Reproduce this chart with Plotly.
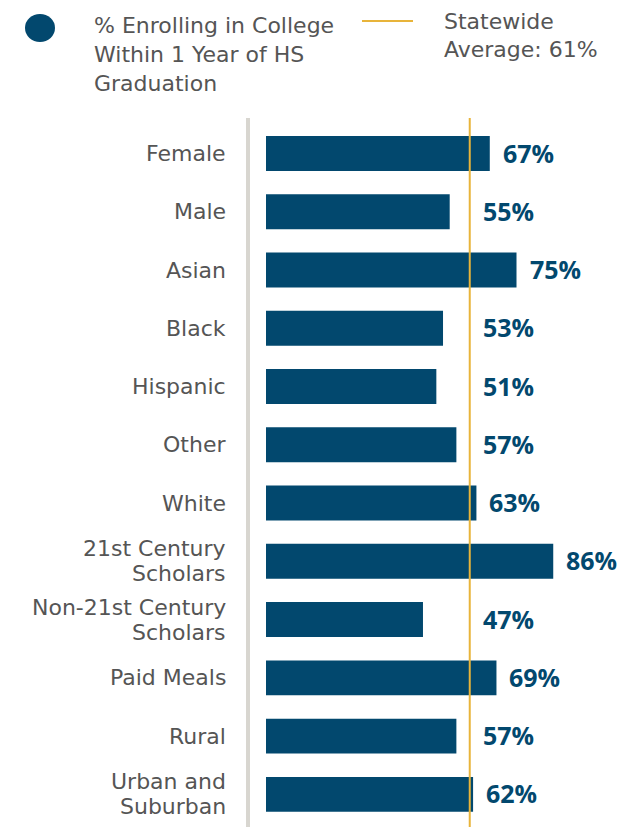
import plotly.graph_objects as go

categories = ["Female", "Male", "Asian", "Black", "Hispanic", "Other", "White",
              "21st Century<br>Scholars", "Non-21st Century<br>Scholars",
              "Paid Meals", "Rural", "Urban and<br>Suburban"]
values = [67, 55, 75, 53, 51, 57, 63, 86, 47, 69, 57, 62]
statewide_avg = 61
series_name = "% Enrolling in College<br>Within 1 Year of HS<br>Graduation"
avg_name = "Statewide<br>Average: 61%"

BAR = "#02486e"
GOLD = "#e8b43a"
GRAY_TXT = "#555555"
LABEL_FONT = "DejaVu Sans, sans-serif"
VALUE_FONT = "Open Sans, sans-serif"

# page is rendered with an 8px body margin
OFF = 8
PAGE_W, PAGE_H = 638, 827
W, H = PAGE_W - OFF, PAGE_H - OFF
L, R, T, B = 266, 38, 118, 0          # page pixel positions of plot area
PW, PH = PAGE_W - L - R, PAGE_H - T - B


def px(x):
    return (x - L) / PW


def py(y):
    return 1 - (y - T) / PH


pos = list(range(len(categories)))

fig = go.Figure()
fig.add_trace(go.Bar(
    y=pos, x=values, orientation="h",
    marker=dict(color=BAR, line=dict(width=0)),
    width=0.6, showlegend=False, hoverinfo="skip",
))

annotations = []
for i, (c, v) in enumerate(zip(categories, values)):
    lines = c.split("<br>")
    n = len(lines)
    for k, line in enumerate(lines):
        annotations.append(dict(
            x=px(228), xref="paper", y=i, yref="y", text=line, showarrow=False,
            xanchor="right", yanchor="middle", align="right",
            yshift=-(k - (n - 1) / 2) * 25,
            font=dict(family=LABEL_FONT, size=22, color=GRAY_TXT),
        ))
    annotations.append(dict(
        x=max(v, statewide_avg), xref="x", y=i, yref="y", text=f"<b>{v}%</b>",
        showarrow=False, xanchor="left", yanchor="middle", xshift=11, yshift=1,
        font=dict(family=VALUE_FONT, size=25, color=BAR),
    ))

# legend texts, one annotation per line
for k, line in enumerate(series_name.split("<br>")):
    annotations.append(dict(
        x=px(92), xref="paper", y=py(26 + 28.6 * k), yref="paper", text=line,
        showarrow=False, xanchor="left", yanchor="middle", align="left",
        font=dict(family=LABEL_FONT, size=22, color=GRAY_TXT),
    ))
for k, line in enumerate(avg_name.split("<br>")):
    annotations.append(dict(
        x=px(442), xref="paper", y=py(21 + 28.3 * k), yref="paper", text=line,
        showarrow=False, xanchor="left", yanchor="middle", align="left",
        font=dict(family=LABEL_FONT, size=22, color=GRAY_TXT),
    ))

shapes = [
    # gray axis bar
    dict(type="line", xref="paper", yref="paper", x0=px(248), x1=px(248),
         y0=0, y1=1, line=dict(color="#d8d6d0", width=4)),
    # statewide average line
    dict(type="line", xref="x", yref="paper", x0=statewide_avg, x1=statewide_avg,
         y0=0, y1=1, line=dict(color=GOLD, width=2)),
    # legend markers
    dict(type="circle", xref="paper", yref="paper", x0=px(25), x1=px(55),
         y0=py(14), y1=py(42), fillcolor=BAR, line=dict(width=0)),
    dict(type="line", xref="paper", yref="paper", x0=px(362), x1=px(413),
         y0=py(21), y1=py(21), line=dict(color=GOLD, width=2)),
]

fig.update_layout(
    width=W, height=H,
    margin=dict(l=L - OFF, r=R, t=T - OFF, b=B, pad=0),
    paper_bgcolor="white", plot_bgcolor="white",
    xaxis=dict(range=[0, 100], visible=False, fixedrange=True),
    yaxis=dict(range=[11.56, -0.61], visible=False, fixedrange=True),
    bargap=0.4,
    shapes=shapes,
    annotations=annotations,
    showlegend=False,
)

fig.write_html("out.html", config={"displayModeBar": False})
